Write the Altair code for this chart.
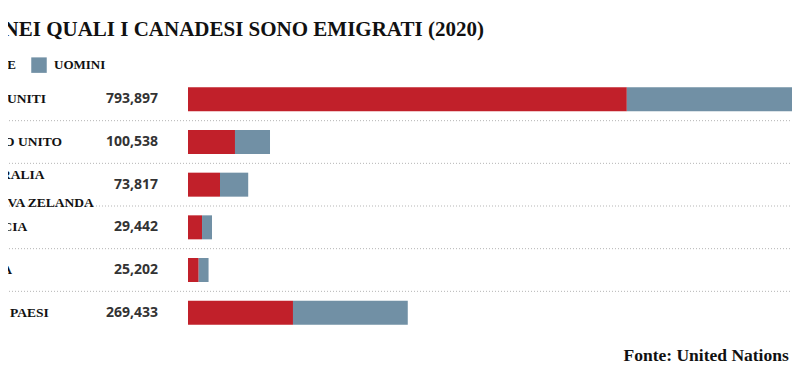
import altair as alt
import pandas as pd

paesi = ["STATI UNITI", "REGNO UNITO", "AUSTRALIA|E NUOVA ZELANDA", "FRANCIA", "ITALIA", "ALTRI PAESI"]
totali = [793897, 100538, 73817, 29442, 25202, 269433]
donne = [538000, 57600, 39200, 17200, 13100, 128700]
uomini = [255897, 42938, 34617, 12242, 12102, 140733]
sessi = ["DONNE", "UOMINI"]
colori = ["#c1202a", "#7190a5"]
titolo = "PAESI NEI QUALI I CANADESI SONO EMIGRATI (2020)"
fonte = "Fonte: United Nations (2020)"

SERIF = "Liberation Serif"
LINE_H = 28.5

righe = pd.DataFrame({"paese": paesi, "totale": totali})
lungo = pd.DataFrame({
    "paese": paesi * 2,
    "sesso": [sessi[0]] * len(paesi) + [sessi[1]] * len(paesi),
    "valore": donne + uomini,
    "ordine": [0] * len(paesi) + [1] * len(paesi),
})

yscale = alt.Scale(paddingInner=0, paddingOuter=0)
y = alt.Y("paese:N", sort=paesi, axis=None, scale=yscale)

barre = alt.Chart(lungo).mark_bar(height=24).encode(
    x=alt.X(
        "valore:Q",
        stack="zero",
        scale=alt.Scale(domain=[0, 740500], nice=False, zero=True),
        axis=alt.Axis(
            title=fonte, labels=False, ticks=False, domain=False, grid=False,
            titleAnchor="start", titleAlign="left", titleX=435, titleY=21,
            titleBaseline="middle", titleFont=SERIF, titleFontSize=17.5,
            titleFontWeight="bold", titleColor="#111",
        ),
    ),
    y=y,
    color=alt.Color(
        "sesso:N",
        scale=alt.Scale(domain=sessi, range=colori),
        legend=alt.Legend(
            title=None, orient="none", legendX=-242, legendY=-21,
            direction="horizontal", symbolType="square", symbolSize=240,
            symbolStrokeWidth=0, symbolOpacity=1, labelFont=SERIF,
            labelFontWeight="bold", labelFontSize=13, labelColor="#111",
            labelOffset=7, columnPadding=15, padding=0,
        ),
    ),
    order=alt.Order("ordine:Q"),
)

separatori = alt.Chart(righe).transform_filter(
    alt.datum.paese != paesi[0]
).mark_rule(strokeDash=[1, 2], color="#b5b5b5", strokeWidth=1).encode(
    y=alt.Y("paese:N", sort=paesi, axis=None, scale=yscale, bandPosition=0),
    x=alt.value(-188),
    x2=alt.value(604),
)

stile_etichetta = dict(
    align="left", baseline="middle", lineBreak="|", lineHeight=LINE_H,
    font=SERIF, fontWeight="bold", fontSize=13.5, color="#111",
)

etichette = alt.Chart(righe).transform_filter(
    "indexof(datum.paese, '|') < 0"
).mark_text(**stile_etichetta).encode(y=y, x=alt.value(-223), text="paese:N")

etichette_doppie = alt.Chart(righe).transform_filter(
    "indexof(datum.paese, '|') >= 0"
).mark_text(dy=-10, **stile_etichetta).encode(
    y=y, x=alt.value(-223), text="paese:N"
)

numeri = alt.Chart(righe).mark_text(
    align="right", baseline="middle", font="Open Sans", fontWeight="bold",
    fontSize=14, color="#333333",
).encode(y=y, x=alt.value(-30), text=alt.Text("totale:Q", format=","))

chart = alt.layer(separatori, barre, etichette, etichette_doppie, numeri).properties(
    width=604,
    height=256,
    padding={"left": 180, "top": 70, "right": 0, "bottom": 32},
    autosize=alt.AutoSizeParams(type="none"),
    title=alt.Title(
        titolo, anchor="start", frame="group", dx=-250, offset=17,
        font=SERIF, fontSize=21, fontWeight="bold", color="#111",
    ),
).configure_view(stroke=None)

chart.save("out.html", embed_options={"renderer": "svg", "actions": False})
